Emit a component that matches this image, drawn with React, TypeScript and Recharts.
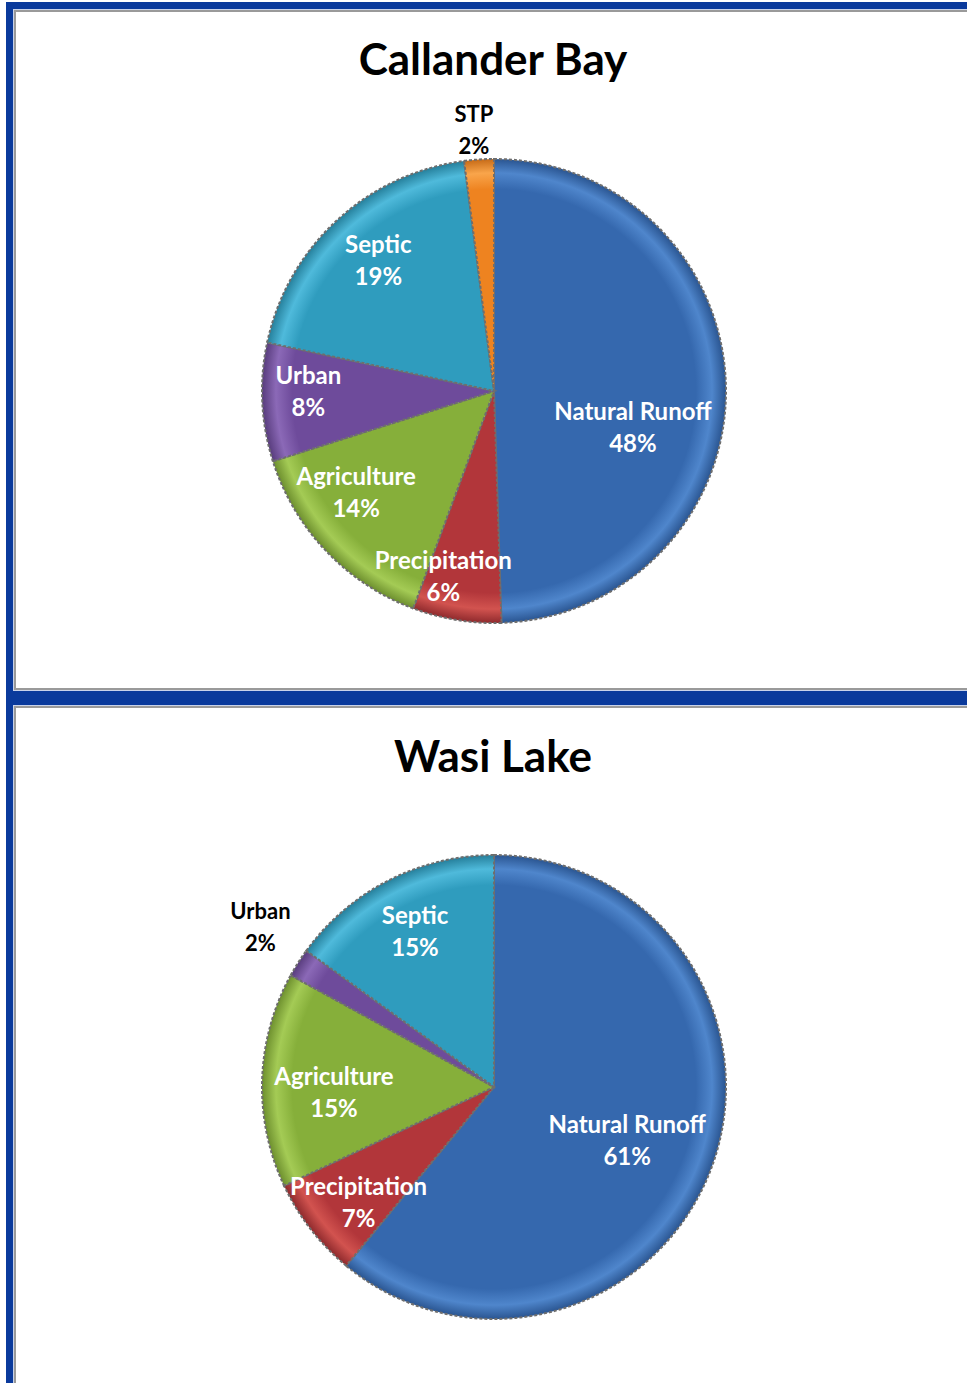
import { Cell, Pie, PieChart } from "recharts";

// pollution sources, clockwise from 12 o'clock
const callanderSources = ["Natural Runoff", "Precipitation", "Agriculture", "Urban", "Septic", "STP"];
const callanderShares = [48, 6, 14, 8, 19, 2];

const wasiSources = ["Natural Runoff", "Precipitation", "Agriculture", "Urban", "Septic"];
const wasiShares = [61, 7, 15, 2, 15];

const callanderData = callanderSources.map((source, i) => ({ source, share: callanderShares[i] }));
const wasiData = wasiSources.map((source, i) => ({ source, share: wasiShares[i] }));

// label placement: fraction of radius, angle nudge (deg)
const callanderLabelRadius = [0.62, 0.83, 0.74, 0.8, 0.75, 1.13];
const callanderLabelShift = [-16, -6, -7, -2.5, -1, 0.7];
const wasiLabelRadius = [0.62, 0.77, 0.69, 1.22, 0.75];
const wasiLabelShift = [-2.4, 2.9, 3.9, -2, 0];

const palette: Record<string, { base: string; rim: string; edge: string }> = {
  "Natural Runoff": { base: "#3568ae", rim: "#4f86cc", edge: "#2a5591" },
  Precipitation: { base: "#b2363a", rim: "#d2534f", edge: "#8f2a2d" },
  Agriculture: { base: "#86af3a", rim: "#a4cb55", edge: "#6d8f2e" },
  Urban: { base: "#6e4b9b", rim: "#8b69b7", edge: "#583c7d" },
  Septic: { base: "#2f9cbe", rim: "#4fbadb", edge: "#257f9b" },
  STP: { base: "#ee8320", rim: "#f9a54b", edge: "#c76b17" },
};

const FONT = "Lato, 'Open Sans', sans-serif";
const BLUE = "#0a3a9c";
const R = 232;
const CX = 489; // chart margin adds 5px
const RAD = Math.PI / 180;

function makeLabel(sources: string[], shares: number[], radii: number[], shifts: number[]) {
  return (props: any) => {
    const { cx, cy, midAngle, outerRadius, index } = props;
    const a = (midAngle + shifts[index]) * RAD;
    const r = outerRadius * radii[index];
    const x = cx + r * Math.cos(a);
    const y = cy - r * Math.sin(a);
    const outside = radii[index] > 1;
    return (
      <text
        x={x}
        y={y}
        textAnchor="middle"
        fill={outside ? "#000" : "#fff"}
        fontFamily={FONT}
        fontWeight={700}
        fontSize={outside ? 22 : 24}
      >
        <tspan x={x} dy={-8}>{sources[index]}</tspan>
        <tspan x={x} dy={32}>{shares[index]}%</tspan>
      </text>
    );
  };
}

function Gradients({ id, cx, cy }: { id: string; cx: number; cy: number }) {
  return (
    <defs>
      {Object.entries(palette).map(([name, c], i) => (
        <radialGradient key={name} id={`${id}-${i}`} gradientUnits="userSpaceOnUse" cx={cx} cy={cy} r={R}>
          <stop offset="0%" stopColor={c.base} />
          <stop offset="87%" stopColor={c.base} />
          <stop offset="94%" stopColor={c.rim} />
          <stop offset="100%" stopColor={c.edge} />
        </radialGradient>
      ))}
    </defs>
  );
}

function PiePanel({
  title,
  top,
  height,
  data,
  sources,
  shares,
  radii,
  shifts,
  id,
  cy,
  titleY,
}: {
  title: string;
  top: number;
  height: number;
  data: { source: string; share: number }[];
  sources: string[];
  shares: number[];
  radii: number[];
  shifts: number[];
  id: string;
  cy: number;
  titleY: number;
}) {
  const names = Object.keys(palette);
  return (
    <div style={{ position: "absolute", left: 0, top, width: 967, height }}>
      <div
        style={{
          position: "absolute",
          left: 0,
          top: titleY,
          width: 986,
          textAlign: "center",
          fontFamily: FONT,
          fontWeight: 700,
          fontSize: 44,
          color: "#000",
          lineHeight: "50px",
        }}
      >
        {title}
      </div>
      <div style={{ position: "absolute", left: 0, top: 0 }}>
        <PieChart width={967} height={height}>
          <Gradients id={id} cx={CX + 5} cy={cy + 5} />
          <Pie
            data={data}
            dataKey="share"
            nameKey="source"
            cx={CX}
            cy={cy}
            outerRadius={R}
            startAngle={90}
            endAngle={-270}
            isAnimationActive={false}
            labelLine={false}
            label={makeLabel(sources, shares, radii, shifts)}
            stroke="#6e6e6e"
            strokeWidth={2}
            strokeDasharray="3 2"
          >
            {data.map((d) => (
              <Cell key={d.source} fill={`url(#${id}-${names.indexOf(d.source)})`} />
            ))}
          </Pie>
        </PieChart>
      </div>
    </div>
  );
}

function Frame({ top, height, bottom }: { top: number; height: number; bottom: boolean }) {
  return (
    <div
      style={{
        position: "absolute",
        left: 6,
        top,
        width: 1000,
        height,
        boxSizing: "border-box",
        borderLeft: `7px solid ${BLUE}`,
        borderTop: `7px solid ${BLUE}`,
        borderBottom: bottom ? `7px solid ${BLUE}` : "none",
        background: "#c9d3ea",
        paddingLeft: 1,
        paddingTop: 1,
        paddingBottom: bottom ? 1 : 0,
      }}
    >
      <div
        style={{
          width: "100%",
          height: "100%",
          boxSizing: "border-box",
          borderLeft: "2px solid #9a9a9a",
          borderTop: "2px solid #9a9a9a",
          borderBottom: bottom ? "2px solid #9a9a9a" : "none",
          background: "#fff",
        }}
      />
    </div>
  );
}

export default function App() {
  return (
    <div
      style={{
        position: "absolute",
        left: 0,
        top: 0,
        width: 967,
        height: 1383,
        overflow: "hidden",
        background: "#fff",
      }}
    >
      <Frame top={2} height={696} bottom />
      <Frame top={698} height={720} bottom={false} />
      <PiePanel
        title="Callander Bay"
        top={0}
        height={697}
        data={callanderData}
        sources={callanderSources}
        shares={callanderShares}
        radii={callanderLabelRadius}
        shifts={callanderLabelShift}
        id="cb"
        cy={386}
        titleY={33}
      />
      <PiePanel
        title="Wasi Lake"
        top={698}
        height={685}
        data={wasiData}
        sources={wasiSources}
        shares={wasiShares}
        radii={wasiLabelRadius}
        shifts={wasiLabelShift}
        id="wl"
        cy={384}
        titleY={32}
      />
    </div>
  );
}
